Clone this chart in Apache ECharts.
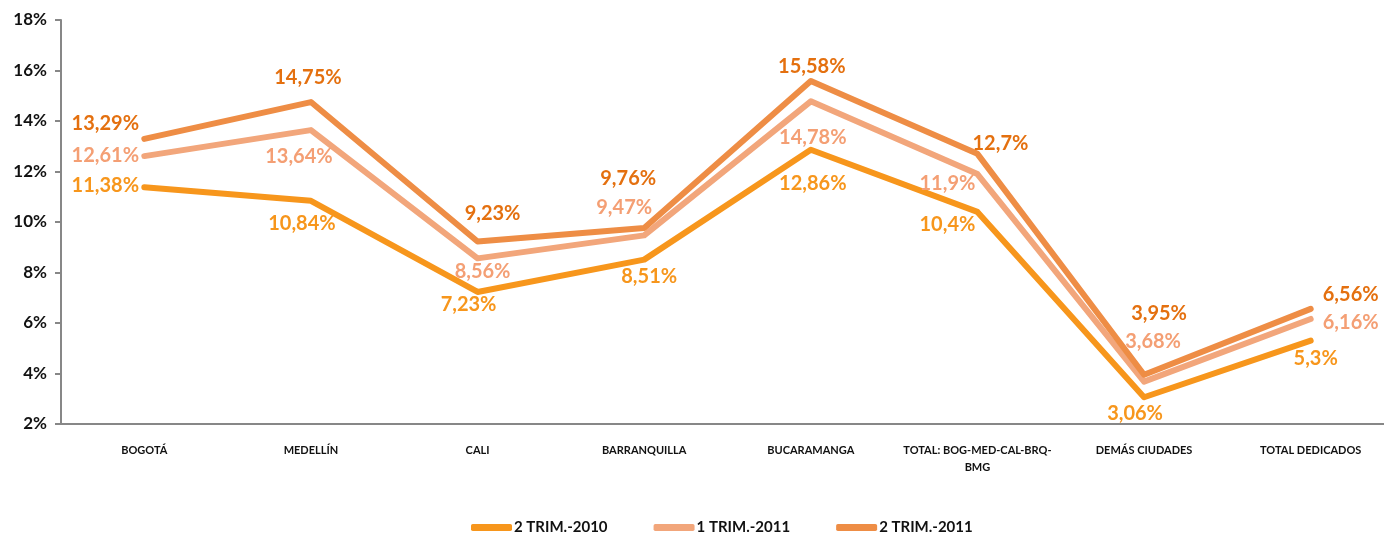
<!DOCTYPE html>
<html lang="es">
<head>
  <meta charset="UTF-8">
  <title>Penetración por ciudad</title>
  <script src="https://cdn.jsdelivr.net/npm/echarts@6.0.0/dist/echarts.min.js"></script>
  <style>
    html, body { margin: 0; padding: 0; background: #fff; overflow: hidden; }
  </style>
</head>
<body>

  <!-- a bit wider than the window: the last category runs to the right edge -->
  <div id="main" style="width: 1396px;height:533px;"></div>

  <script type="text/javascript">
    // Data
    const categories = ['BOGOTÁ', 'MEDELLÍN', 'CALI', 'BARRANQUILLA', 'BUCARAMANGA',
      'TOTAL: BOG-MED-CAL-BRQ-BMG', 'DEMÁS CIUDADES', 'TOTAL DEDICADOS'];
    const seriesNames = ['2 TRIM.-2010', '1 TRIM.-2011', '2 TRIM.-2011'];
    const trim2_2010 = [11.38, 10.84, 7.23, 8.51, 12.86, 10.4, 3.06, 5.3];
    const trim1_2011 = [12.61, 13.64, 8.56, 9.47, 14.78, 11.9, 3.68, 6.16];
    const trim2_2011 = [13.29, 14.75, 9.23, 9.76, 15.58, 12.7, 3.95, 6.56];
    const yTicks = [2, 4, 6, 8, 10, 12, 14, 16, 18];

    const lineColors = ['#F7961C', '#F2A67B', '#EE8D45'];
    const labelColors = ['#F7961C', '#F49F74', '#E4700F'];

    // label centre offset from each point, in px: [dx, dy]
    const labelOffsets = [
      [[-39, -2], [-9, 23], [-9, 13], [5, 17], [2, 34], [-30, 13], [-9, 16], [5, 18]],
      [[-39, -1], [-12, 26], [5, 13], [-20, -28], [2, 36], [-30, 10], [9, -40], [40, 4]],
      [[-39, -15], [-3, -25], [15, -28], [-16, -50], [1, -15], [23, -10], [15, -61], [40, -14]]
    ];

    const fmt = v => String(v).replace('.', ',') + '%';

    let myChart = echarts.init(document.getElementById('main'));

    const series = [trim2_2010, trim1_2011, trim2_2011].map((vals, i) => ({
      name: seriesNames[i],
      type: 'line',
      symbol: 'circle',
      symbolSize: 1,
      showSymbol: true,
      z: 3 + i,
      lineStyle: { width: 6, color: lineColors[i], cap: 'round', join: 'round' },
      itemStyle: { color: lineColors[i] },
      data: vals.map((v, j) => ({
        value: v,
        label: {
          show: true,
          position: 'inside',
          offset: labelOffsets[i][j],
          formatter: p => fmt(p.value),
          color: labelColors[i],
          textBorderWidth: 0,
          fontFamily: 'Lato',
          fontWeight: 'bold',
          fontSize: 20
        }
      }))
    }));

    let options = {
      animation: false,
      grid: { left: 61, right: 2, top: 20, bottom: 109, containLabel: false },
      legend: {
        top: 515,
        left: 466,
        itemWidth: 41,
        itemHeight: 7,
        itemGap: 46,
        icon: 'roundRect',
        textStyle: { fontFamily: 'Lato', fontWeight: 'bold', fontSize: 15, color: '#111', padding: [0, 0, 0, -3] },
        data: seriesNames
      },
      xAxis: {
        type: 'category',
        data: categories,
        boundaryGap: true,
        axisLine: { lineStyle: { color: '#878787', width: 2 } },
        axisTick: { show: false },
        axisLabel: {
          interval: 0,
          margin: 18,
          color: '#111',
          fontFamily: 'Lato',
          fontWeight: 'bold',
          fontSize: 11,
          lineHeight: 17,
          formatter: s => s.replace('BRQ-BMG', 'BRQ-\nBMG')
        }
      },
      yAxis: {
        type: 'value',
        min: yTicks[0],
        max: yTicks[yTicks.length - 1],
        interval: 2,
        splitLine: { show: false },
        axisLine: { show: true, lineStyle: { color: '#878787', width: 2 } },
        axisTick: { show: true, length: 6, lineStyle: { color: '#878787', width: 2 } },
        axisLabel: {
          margin: 14,
          color: '#111',
          fontFamily: 'Lato',
          fontWeight: 'bold',
          fontSize: 17,
          formatter: v => v + '%'
        }
      },
      series: series
    };

    myChart.setOption(options);
  </script>
</body>
</html>
